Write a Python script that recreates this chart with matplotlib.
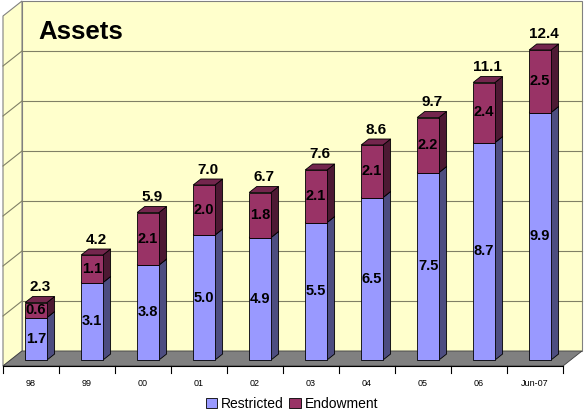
import matplotlib
matplotlib.use("Agg")
import matplotlib.pyplot as plt
from matplotlib.patches import Polygon, Patch

plt.rcParams['font.family'] = ['Liberation Sans', 'DejaVu Sans']

CATEGORIES = ["98", "99", "00", "01", "02", "03", "04", "05", "06", "Jun-07"]
RESTRICTED = [1.7, 3.1, 3.8, 5.0, 4.9, 5.5, 6.5, 7.5, 8.7, 9.9]
ENDOWMENT = [0.6, 1.1, 2.1, 2.0, 1.8, 2.1, 2.1, 2.2, 2.4, 2.5]
TOTALS = [2.3, 4.2, 5.9, 7.0, 6.7, 7.6, 8.6, 9.7, 11.1, 12.4]
GRID_VALUES = [2, 4, 6, 8, 10, 12, 14]
VMAX = 14

# fake 3-D: depth d in [0, 1] shifts points right/up
DX = 19 / 56
DY = 15 / 25
BAR_OFF, BAR_W = 0.26, 0.39
D0, D1 = 0.4, 0.8

FRONT = {"r": "#9999ff", "e": "#993366"}
SIDE = {"r": "#4d4d80", "e": "#4d1933"}
TOP = {"r": "#7373bf", "e": "#73264d"}


def P(x, v, d):
    return (x + d * DX, v + d * DY)


fig = plt.figure(figsize=(5.84, 4.12), dpi=100)
ax = fig.add_axes([0, 0, 1, 1])
ax.set_xlim(-3 / 56, 581 / 56)
ax.set_ylim(-46 / 25, 366 / 25)
ax.axis("off")

n = len(CATEGORIES)

# back wall, left wall, floor
ax.add_patch(Polygon([P(0, 0, 1), P(n, 0, 1), P(n, VMAX, 1), P(0, VMAX, 1)],
                     closed=True, fc="#ffffcc", ec="#808080", lw=0.8, zorder=1))
ax.add_patch(Polygon([P(0, 0, 0), P(0, 0, 1), P(0, VMAX, 1), P(0, VMAX, 0)],
                     closed=True, fc="#ffffcc", ec="#808080", lw=0.8, zorder=1))
for g in GRID_VALUES[:-1]:
    ax.plot([P(0, g, 1)[0], P(n, g, 1)[0]], [P(0, g, 1)[1]] * 2,
            color="#808066", lw=0.8, zorder=2)
    ax.plot([P(0, g, 0)[0], P(0, g, 1)[0]], [P(0, g, 0)[1], P(0, g, 1)[1]],
            color="#808066", lw=0.8, zorder=2)
ax.add_patch(Polygon([P(0, 0, 0), P(n, 0, 0), P(n, 0, 1), P(0, 0, 1)],
                     closed=True, fc="#808080", ec="#404040", lw=0.6, zorder=3))

# axis line + ticks
ax.plot([0, n], [0, 0], color="black", lw=0.8, zorder=4)
for i in range(n + 1):
    ax.plot([i, i], [0, -0.28], color="black", lw=0.8, zorder=4)
for i, lab in enumerate(CATEGORIES):
    ax.text(i + 0.5, -0.68, lab, ha="center", va="center", fontsize=6.5, zorder=5)


def box(x0, x1, v0, v1, key):
    front = [P(x0, v0, D0), P(x1, v0, D0), P(x1, v1, D0), P(x0, v1, D0)]
    side = [P(x1, v0, D0), P(x1, v0, D1), P(x1, v1, D1), P(x1, v1, D0)]
    top = [P(x0, v1, D0), P(x1, v1, D0), P(x1, v1, D1), P(x0, v1, D1)]
    for pts, fc in ((side, SIDE[key]), (top, TOP[key]), (front, FRONT[key])):
        ax.add_patch(Polygon(pts, closed=True, fc=fc, ec="black", lw=0.6, zorder=6))


for i in range(n):
    x0 = i + BAR_OFF
    x1 = x0 + BAR_W
    r, e = RESTRICTED[i], ENDOWMENT[i]
    box(x0, x1, 0, r, "r")
    box(x0, x1, r, r + e, "e")
    cx = P(x0 + BAR_W / 2, 0, D0)[0]
    ax.text(cx, P(0, r / 2, D0)[1], f"{r:.1f}", ha="center", va="center",
            fontsize=10.5, fontweight="bold", zorder=7)
    ax.text(cx, P(0, r + e / 2, D0)[1], f"{e:.1f}", ha="center", va="center",
            fontsize=10.5, fontweight="bold", zorder=7)
    tx, ty = P(x0 + BAR_W / 2, TOTALS[i], (D0 + D1) / 2)
    ax.annotate(f"{TOTALS[i]:.1f}", (tx, ty), textcoords="offset points",
                xytext=(0, 9), ha="center", va="center", fontsize=11,
                fontweight="bold", zorder=7)

ax.text((38 - 3) / 56, (366 - 32) / 25, "Assets", ha="left", va="center",
        fontsize=18.5, fontweight="bold", zorder=7)

handles = [Patch(fc=FRONT["r"], ec="black", lw=0.6, label="Restricted"),
           Patch(fc=FRONT["e"], ec="black", lw=0.6, label="Endowment")]
fig.legend(handles=handles, loc="center", bbox_to_anchor=(0.5, 8 / 412), ncol=2,
           frameon=False, fontsize=10, handlelength=0.8, handleheight=0.8,
           columnspacing=0.4, handletextpad=0.3)

fig.savefig("out.png", dpi=100)
